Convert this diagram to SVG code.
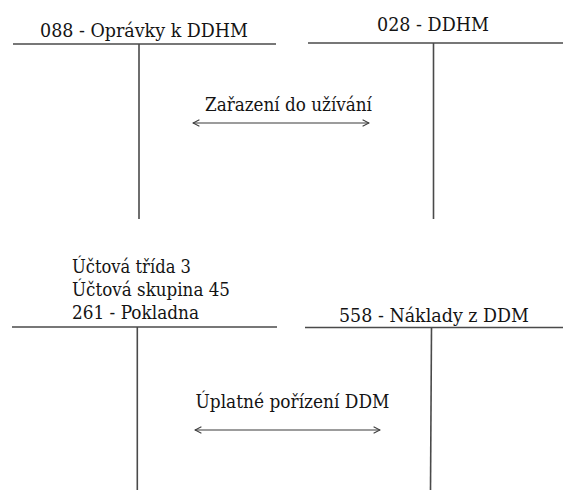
<svg xmlns="http://www.w3.org/2000/svg" width="563" height="490" viewBox="0 0 563 490">
  <style>
    .lbl { font-family: "DejaVu Serif", serif; font-size: 18.5px; fill: #141414; }
    .acct { stroke: #4a4a4a; stroke-width: 1.6; fill: none; }
    .conn { stroke: #3a3a3a; stroke-width: 1.1; fill: none; }
  </style>
  <defs>
    <marker id="open" viewBox="0 0 10 10" refX="9" refY="5" markerWidth="8" markerHeight="8" markerUnits="userSpaceOnUse" orient="auto-start-reverse">
      <path d="M1,1 L9,5 L1,9" fill="none" stroke="#3a3a3a" stroke-width="1.3"/>
    </marker>
  </defs>
  <rect width="563" height="490" fill="#ffffff"/>

  <g id="acct-088">
    <text class="lbl" x="40" y="37" textLength="208" lengthAdjust="spacingAndGlyphs">088 - Oprávky k DDHM</text>
    <line class="acct" x1="13" y1="44" x2="276" y2="44"/>
    <line class="acct" x1="139" y1="44" x2="139" y2="219"/>
  </g>

  <g id="acct-028">
    <text class="lbl" x="377" y="31" textLength="112" lengthAdjust="spacingAndGlyphs">028 - DDHM</text>
    <line class="acct" x1="308" y1="43" x2="563" y2="43"/>
    <line class="acct" x1="433.5" y1="43" x2="433.5" y2="219"/>
  </g>

  <g id="acct-261">
    <text class="lbl" x="72" y="273" textLength="119" lengthAdjust="spacingAndGlyphs">Účtová třída 3</text>
    <text class="lbl" x="72" y="296" textLength="158" lengthAdjust="spacingAndGlyphs">Účtová skupina 45</text>
    <text class="lbl" x="72" y="319" textLength="127" lengthAdjust="spacingAndGlyphs">261 - Pokladna</text>
    <line class="acct" x1="12" y1="327" x2="277" y2="327"/>
    <line class="acct" x1="137.3" y1="327" x2="137.3" y2="490"/>
  </g>

  <g id="acct-558">
    <text class="lbl" x="339" y="322" textLength="190" lengthAdjust="spacingAndGlyphs">558 - Náklady z DDM</text>
    <line class="acct" x1="305" y1="327.5" x2="563" y2="327.5"/>
    <line class="acct" x1="431.5" y1="327.5" x2="430.5" y2="490"/>
  </g>

  <g id="connectors">
    <text class="lbl" x="205" y="111" textLength="167" lengthAdjust="spacingAndGlyphs">Zařazení do užívání</text>
    <line class="conn" x1="193" y1="123" x2="369" y2="123" marker-start="url(#open)" marker-end="url(#open)"/>
    <text class="lbl" x="195.5" y="408" textLength="194" lengthAdjust="spacingAndGlyphs">Úplatné pořízení DDM</text>
    <line class="conn" x1="195" y1="430" x2="380" y2="430" marker-start="url(#open)" marker-end="url(#open)"/>
  </g>
</svg>
